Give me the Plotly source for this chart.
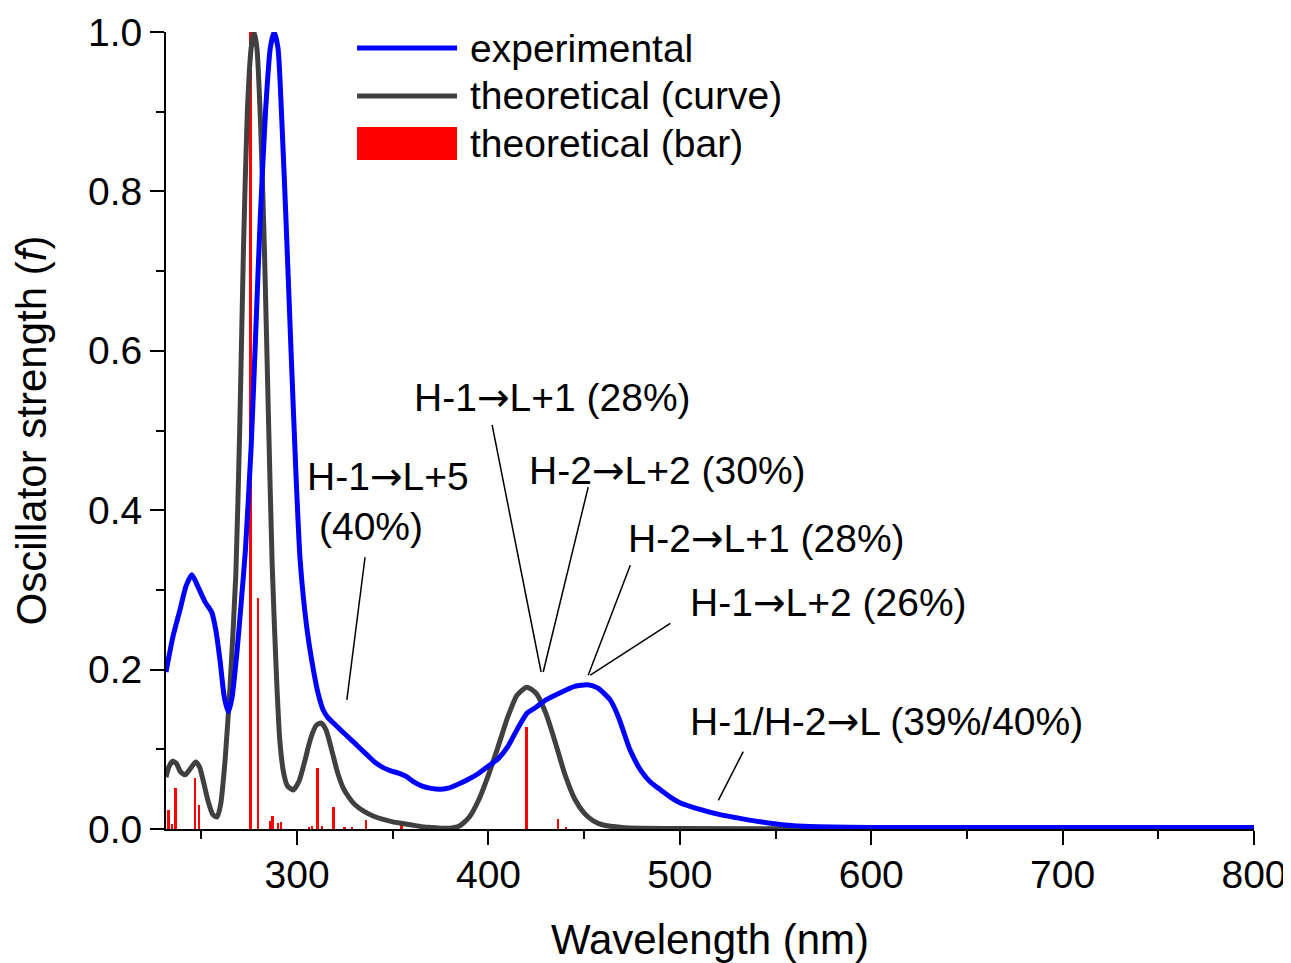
import plotly.graph_objects as go

# ---------------- data ----------------
exp_x = [231.5, 235, 238.8, 242, 245, 248, 251.9, 255.4, 257.5, 259.7, 262, 264.1, 266, 268.5,
         271, 273, 276, 278.5, 280.7, 283.5, 286, 288, 290, 292, 294.2, 297, 299.5, 301.6,
         305, 308.5, 311, 313.7, 316, 319, 322, 326, 330, 333, 337, 341, 345, 349, 353, 357,
         361, 365, 370, 375, 380, 385, 390, 395, 400, 405, 410, 415, 420, 425, 430, 437.5,
         445, 452, 457, 463.6, 468, 474, 480, 485, 490, 495, 500, 510, 521, 530, 542, 555,
         568, 600, 650, 700, 750, 800]
exp_y = [0.197, 0.24, 0.275, 0.305, 0.319, 0.305, 0.285, 0.272, 0.25, 0.212, 0.165, 0.147, 0.165, 0.22,
         0.29, 0.35, 0.48, 0.63, 0.764, 0.9, 0.98, 1.0, 0.98, 0.89, 0.764, 0.59, 0.44, 0.337,
         0.254, 0.2, 0.17, 0.149, 0.14, 0.133, 0.126, 0.117, 0.108, 0.101, 0.092, 0.083, 0.077, 0.073, 0.070, 0.066,
         0.059, 0.054, 0.051, 0.050, 0.052, 0.057, 0.063, 0.070, 0.079, 0.088, 0.103, 0.125, 0.145, 0.153, 0.162, 0.171,
         0.179, 0.181, 0.177, 0.162, 0.140, 0.099, 0.072, 0.058, 0.049, 0.040, 0.033, 0.025, 0.018, 0.014, 0.009, 0.005,
         0.003, 0.002, 0.002, 0.002, 0.002, 0.002]

theo_x = [231.5, 233, 235, 237, 239, 241.5, 244, 247, 249, 251, 253.5, 256, 258.2, 260, 262.4, 265,
          268, 270, 272, 274, 276, 277.5, 279, 281, 283, 285, 287, 289.3, 291, 293, 295, 298,
          301, 304, 307, 310, 312.5, 315, 318, 321, 324, 327, 330, 335, 340, 345, 350, 355,
          360, 365, 370, 375, 380, 385, 390, 395, 400, 405, 410, 415, 420, 425, 430, 435,
          440, 445, 450, 455, 460, 470, 480, 500, 600, 800]
theo_y = [0.065, 0.078, 0.085, 0.082, 0.072, 0.068, 0.075, 0.084, 0.078, 0.06, 0.035, 0.018, 0.015, 0.03, 0.087, 0.18,
          0.32, 0.5, 0.73, 0.9, 0.98, 1.0, 0.98, 0.88, 0.72, 0.52, 0.33, 0.187, 0.11, 0.07, 0.054, 0.049,
          0.06, 0.085, 0.113, 0.13, 0.133, 0.125, 0.1, 0.072, 0.052, 0.04, 0.031, 0.022, 0.016, 0.012, 0.009, 0.007,
          0.005, 0.003, 0.002, 0.001, 0.001, 0.004, 0.015, 0.037, 0.068, 0.103, 0.14, 0.168, 0.178, 0.17, 0.145, 0.108,
          0.068, 0.038, 0.02, 0.01, 0.005, 0.002, 0.001, 0.0005, 0.0003, 0.0003]

bar_x = [233.0, 234.8, 236.6, 246.8, 248.8, 275.8, 279.8, 285.9, 287.3, 290.2, 291.8, 306.5, 308.0,
         310.8, 313.0, 319.2, 325.0, 328.9, 336.2, 354.7, 420.0, 436.6, 440.5, 470.0]
bar_y = [0.024, 0.006, 0.052, 0.064, 0.030, 1.0, 0.29, 0.010, 0.016, 0.008, 0.009, 0.003, 0.004,
         0.077, 0.004, 0.027, 0.003, 0.003, 0.011, 0.007, 0.128, 0.013, 0.002, 0.003]

x_ticks = [300, 400, 500, 600, 700, 800]
y_ticks = [0.0, 0.2, 0.4, 0.6, 0.8, 1.0]
y_ticklabels = ["0.0", "0.2", "0.4", "0.6", "0.8", "1.0"]

legend_names = ["experimental", "theoretical (curve)", "theoretical (bar)"]

ARW = "<span style='font-family:DejaVu Sans'>\u2192</span>"
# annotation texts: (text, x_left, y_center)
labels = [
    ("H-1" + ARW + "L+5", 304.2, 0.4417),
    ("(40%)", 310.5, 0.379),
    ("H-1" + ARW + "L+1 (28%)", 360.1, 0.542),
    ("H-2" + ARW + "L+2 (30%)", 420.2, 0.4504),
    ("H-2" + ARW + "L+1 (28%)", 472.0, 0.365),
    ("H-1" + ARW + "L+2 (26%)", 504.4, 0.2848),
    ("H-1/H-2" + ARW + "L (39%/40%)", 504.4, 0.1355),
]
# leader lines: (x0, y0, x1, y1)
leaders = [
    (335.5, 0.341, 326.0, 0.162),
    (401.9, 0.507, 427.5, 0.197),
    (452.1, 0.429, 428.6, 0.197),
    (474.1, 0.331, 452.1, 0.193),
    (495.0, 0.258, 453.2, 0.193),
    (533.1, 0.097, 520.1, 0.036),
]

BLUE = "#0000FF"
GRAY = "#404040"
RED = "#FF0000"
FONT = "Liberation Sans, Arial, Helvetica, sans-serif"
FS = 39
FT = 42

fig = go.Figure()
fig.add_trace(go.Scatter(x=theo_x, y=theo_y, mode="lines", name=legend_names[1],
                         line=dict(color=GRAY, width=5, shape="spline", smoothing=0.6),
                         showlegend=False))
fig.add_trace(go.Scatter(x=exp_x, y=exp_y, mode="lines", name=legend_names[0],
                         line=dict(color=BLUE, width=5, shape="spline", smoothing=0.6),
                         showlegend=False))
fig.add_trace(go.Bar(x=bar_x, y=bar_y, width=1.0, name=legend_names[2],
                     marker=dict(color=RED, line=dict(width=0)), showlegend=False))

# leader lines
for (x0, y0, x1, y1) in leaders:
    fig.add_shape(type="line", x0=x0, y0=y0, x1=x1, y1=y1, xref="x", yref="y",
                  line=dict(color="black", width=1.5))

# labels
for (t, xl, yc) in labels:
    fig.add_annotation(text=t, x=xl, y=yc, xref="x", yref="y", xanchor="left", yanchor="middle",
                       showarrow=False, font=dict(family=FONT, size=FS, color="black"))

# manual legend (paper coords)
lx0, lx1, ltx = 0.1756, 0.2675, 0.2776
ly = [0.9799, 0.9197, 0.8595]
fig.add_shape(type="line", xref="paper", yref="paper", x0=lx0, x1=lx1, y0=ly[0], y1=ly[0],
              line=dict(color=BLUE, width=5))
fig.add_shape(type="line", xref="paper", yref="paper", x0=lx0, x1=lx1, y0=ly[1], y1=ly[1],
              line=dict(color=GRAY, width=5))
fig.add_shape(type="rect", xref="paper", yref="paper", x0=lx0, x1=lx1, y0=0.8394, y1=0.8808,
              fillcolor=RED, line=dict(width=0))
for name, yy in zip(legend_names, ly):
    fig.add_annotation(text=name, x=ltx, y=yy, xref="paper", yref="paper", xanchor="left",
                       yanchor="middle", showarrow=False, font=dict(family=FONT, size=FS, color="black"))

fig.update_layout(
    width=1291, height=963,
    margin=dict(l=158, r=45, t=24, b=142),
    paper_bgcolor="white", plot_bgcolor="white",
    font=dict(family=FONT, size=FS, color="black"),
    showlegend=False,
    bargap=0,
)
fig.update_xaxes(
    range=[231.5, 800], tickmode="array", tickvals=x_ticks, ticktext=[str(v) for v in x_ticks],
    showline=True, linecolor="black", linewidth=2, mirror=False,
    ticks="outside", ticklen=14, tickwidth=2, tickcolor="black",
    minor=dict(ticks="outside", ticklen=8, tickwidth=2, tickcolor="black",
               tickmode="array", tickvals=[250, 350, 450, 550, 650, 750]),
    showgrid=False, zeroline=False, automargin=False, ticklabelstandoff=-4,
    title=dict(text="Wavelength (nm)", font=dict(family=FONT, size=FT), standoff=30),
    tickfont=dict(family=FONT, size=FS),
)
fig.update_yaxes(
    range=[0, 1.0], tickmode="array", tickvals=y_ticks, ticktext=y_ticklabels,
    showline=True, linecolor="black", linewidth=2, mirror=False,
    ticks="outside", ticklen=14, tickwidth=2, tickcolor="black",
    minor=dict(ticks="outside", ticklen=8, tickwidth=2, tickcolor="black",
               tickmode="array", tickvals=[0.1, 0.3, 0.5, 0.7, 0.9]),
    showgrid=False, zeroline=False, automargin=False,
    title=dict(text="Oscillator strength (<i>f</i>)", font=dict(family=FONT, size=FT), standoff=36),
    tickfont=dict(family=FONT, size=FS),
)

fig.write_html("out.html")
